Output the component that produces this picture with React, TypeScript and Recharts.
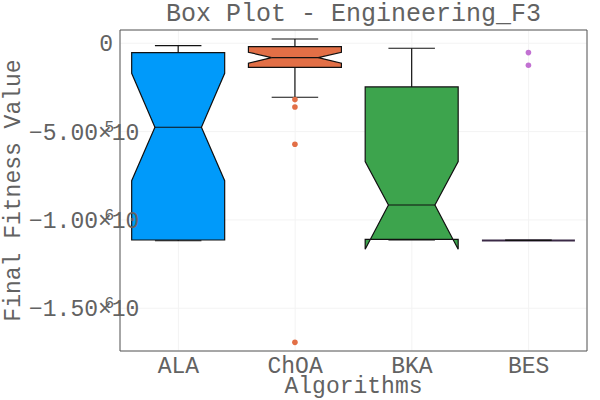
import React from "react";
import {
  ComposedChart,
  Bar,
  XAxis,
  YAxis,
  CartesianGrid,
  ReferenceArea,
} from "recharts";

// values
const categories = ["ALA", "ChOA", "BKA", "BES"];
const colors = ["#009AFA", "#E26F46", "#3DA44D", "#C271D2"];

const whiskerHigh = [-13600, 24000, -28300, -1116000];
const q3 = [-53000, -19000, -247000, -1116000];
const notchHigh = [-170000, -51000, -670000, -1116000];
const median = [-475600, -81000, -915600, -1116000];
const notchLow = [-778000, -113000, -1166000, -1116000];
const q1 = [-1113800, -136000, -1110000, -1116000];
const whiskerLow = [-1118000, -305800, -1113000, -1116000];
const outliers = [[], [-319000, -361000, -572000, -1693000], [], [-53000, -124600]];

const yTicks = [-1500000, -1000000, -500000, 0];
const yDomain = [-1742000, 75000];

const FONT = "'Liberation Mono', 'DejaVu Sans Mono', monospace";
const TEXT = "#626262";

const rows = categories.map((name, i) => {
  const all = [whiskerHigh[i], q3[i], notchHigh[i], median[i], notchLow[i], q1[i], whiskerLow[i], ...outliers[i]];
  return {
    name,
    idx: i,
    range: [Math.min(...all), Math.max(...all)],
  };
});

function BoxShape(props: any) {
  const { x, y, width, height, payload } = props;
  const i = payload.idx;
  const top = Math.min(y, y + height);
  const bot = Math.max(y, y + height);
  const [lo, hi] = payload.range;
  const py = (v: number) => (hi === lo ? top : top + ((hi - v) / (hi - lo)) * (bot - top));
  const L = x;
  const R = x + width;
  const cx = x + width / 2;
  const q = width / 4;
  const pts = [
    [L, py(q3[i])],
    [L, py(notchHigh[i])],
    [L + q, py(median[i])],
    [L, py(notchLow[i])],
    [L, py(q1[i])],
    [R, py(q1[i])],
    [R, py(notchLow[i])],
    [R - q, py(median[i])],
    [R, py(notchHigh[i])],
    [R, py(q3[i])],
  ]
    .map((p) => p.join(","))
    .join(" ");
  const stroke = "#111";
  // collapsed box (BES) reads as a thicker dark line
  const flat = q3[i] === q1[i];
  return (
    <g>
      <line x1={cx} x2={cx} y1={py(q3[i])} y2={py(whiskerHigh[i])} stroke={stroke} strokeWidth={1.2} />
      <line x1={cx - q} x2={cx + q} y1={py(whiskerHigh[i])} y2={py(whiskerHigh[i])} stroke={stroke} strokeWidth={1.2} />
      <line x1={cx} x2={cx} y1={py(q1[i])} y2={py(whiskerLow[i])} stroke={stroke} strokeWidth={1.2} />
      <line x1={cx - q} x2={cx + q} y1={py(whiskerLow[i])} y2={py(whiskerLow[i])} stroke={stroke} strokeWidth={1.2} />
      <polygon
        points={pts}
        fill={colors[i]}
        stroke={flat ? "#3b2a47" : stroke}
        strokeWidth={flat ? 2 : 1.2}
        strokeLinejoin="miter"
      />
      <line x1={L + q} x2={R - q} y1={py(median[i])} y2={py(median[i])} stroke={stroke} strokeWidth={1.2} />
      {outliers[i].map((v, k) => (
        <circle key={k} cx={cx} cy={py(v)} r={2.8} fill={colors[i]} />
      ))}
    </g>
  );
}

function XTick(props: any) {
  const { x, y, payload } = props;
  return (
    <text x={x} y={y + 21.5} textAnchor="middle" fill={TEXT} fontFamily={FONT} fontSize={23}>
      {payload.value}
    </text>
  );
}

function YTick(props: any) {
  const { x, y, payload } = props;
  const v = payload.value;
  if (v === 0) {
    return (
      <text x={x - 7} y={y + 8} textAnchor="end" fill={TEXT} fontFamily={FONT} fontSize={23}>
        0
      </text>
    );
  }
  const exp = Math.floor(Math.log10(Math.abs(v)));
  const mant = (Math.abs(v) / Math.pow(10, exp)).toFixed(2);
  return (
    <g>
      <text x={x - 91} y={y + 8} fill={TEXT} fontFamily={FONT} fontSize={23}>
        {"\u2212" + mant + "\u00d710"}
      </text>
      <text x={x - 15.5} y={y} fill={TEXT} fontFamily={FONT} fontSize={16}>
        {String(exp)}
      </text>
    </g>
  );
}

function XLabel(props: any) {
  const vb = props.viewBox || { x: 120, y: 351, width: 467, height: 49 };
  return (
    <text x={vb.x + vb.width / 2} y={vb.y + 42} textAnchor="middle" fill={TEXT} fontFamily={FONT} fontSize={23}>
      Algorithms
    </text>
  );
}

function YLabel(props: any) {
  const vb = props.viewBox || { x: 0, y: 30, width: 120, height: 321 };
  const cy = vb.y + vb.height / 2;
  return (
    <text
      x={20}
      y={cy}
      transform={`rotate(-90, 20, ${cy})`}
      textAnchor="middle"
      fill={TEXT}
      fontFamily={FONT}
      fontSize={23}
    >
      Final Fitness Value
    </text>
  );
}

export default function App() {
  return (
    <div style={{ position: "absolute", left: 0, top: 0, width: 600, height: 400, background: "#fff" }}>
      <ComposedChart
        width={600}
        height={400}
        data={rows}
        margin={{ top: 30, right: 13, bottom: 0, left: 0 }}
        barCategoryGap="10%"
      >
        <CartesianGrid stroke="#f3f3f3" />
        <XAxis
          dataKey="name"
          height={49}
          tickLine={false}
          axisLine={false}
          tickSize={0}
          tickMargin={0}
          interval={0}
          tick={<XTick />}
          label={<XLabel />}
        />
        <YAxis
          type="number"
          width={120}
          domain={yDomain}
          ticks={yTicks}
          allowDataOverflow
          tickLine={false}
          axisLine={false}
          tickSize={0}
          tickMargin={0}
          tick={<YTick />}
          label={<YLabel />}
        />
        <ReferenceArea y1={yDomain[0]} y2={yDomain[1]} fill="none" stroke="#555" strokeWidth={1} ifOverflow="visible" />
        <Bar dataKey="range" shape={<BoxShape />} isAnimationActive={false} />
      </ComposedChart>
      <svg width={600} height={30} style={{ position: "absolute", left: 0, top: 0 }}>
        <text x={353.5} y={21} textAnchor="middle" fill={TEXT} fontFamily={FONT} fontSize={25}>
          Box Plot - Engineering_F3
        </text>
      </svg>
    </div>
  );
}
